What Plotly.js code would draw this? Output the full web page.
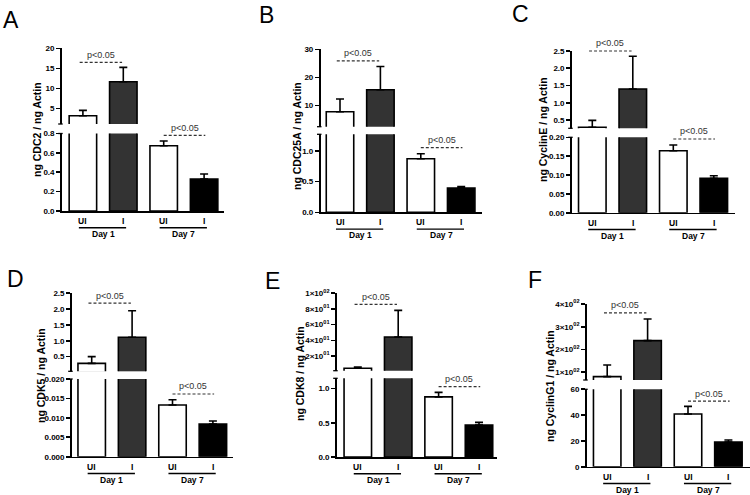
<!DOCTYPE html>
<html>
<head>
<meta charset="utf-8">
<script src="https://cdn.plot.ly/plotly-3.0.1.min.js"></script>
<style>html,body{margin:0;padding:0;background:#fff;}#chart{width:750px;height:495px;}</style>
</head>
<body>
<div id="chart"></div>
<script>
// ---------------- DATA ----------------
const groupLabels = ['UI', 'I', 'UI', 'I'];
const dayLabels = ['Day 1', 'Day 7'];
const panelLetters = ['A', 'B', 'C', 'D', 'E', 'F'];
const yTitles = ['ng CDC2 / ng Actin', 'ng CDC25A / ng Actin', 'ng CyclinE / ng Actin',
                 'ng CDK5 / ng Actin', 'ng CDK8 / ng Actin', 'ng CyclinG1 / ng Actin'];
const pText = 'p<0.05';

// means (UI day1, I day1, UI day7, I day7) and upper SEM
const cdc2Mean     = [3.15, 11.65, 0.674, 0.33];
const cdc2Err      = [1.35, 3.6, 0.048, 0.052];
const cdc25aMean   = [7.75, 15.6, 0.874, 0.396];
const cdc25aErr    = [4.55, 8.3, 0.082, 0.022];
const cyclinEMean  = [0.29, 1.40, 0.1645, 0.0912];
const cyclinEErr   = [0.20, 0.95, 0.015, 0.007];
const cdk5Mean     = [0.29, 1.11, 0.01331, 0.00842];
const cdk5Err      = [0.21, 0.83, 0.00136, 0.00077];
const cdk8Mean     = [4.3, 44.2, 0.88, 0.468];
const cdk8Err      = [1.7, 34.0, 0.066, 0.039];
const cyclinG1Mean = [80.8, 239, 40.9, 19.1];
const cyclinG1Err  = [51, 95, 5.9, 1.6];

// significance bracket levels: [day1 (upper segment), day7 (lower segment)]
const pLevelA = [16.5, 0.781];
const pLevelB = [25.9, 1.054];
const pLevelC = [2.5, 0.1955];
const pLevelD = [2.18, 0.01614];
const pLevelE = [85.9, 1.03];
const pLevelF = [361, 50.9];

// tick values / labels
const ticksUpA = [5, 10, 15, 20],           ticksUpTextA = ['5', '10', '15', '20'];
const ticksLowA = [0, 0.2, 0.4, 0.6, 0.8],  ticksLowTextA = ['0.0', '0.2', '0.4', '0.6', '0.8'];
const ticksUpB = [10, 20, 30],              ticksUpTextB = ['10', '20', '30'];
const ticksLowB = [0, 0.5, 1.0],            ticksLowTextB = ['0.0', '0.5', '1.0'];
const ticksUpC = [0.5, 1, 1.5, 2, 2.5],     ticksUpTextC = ['0.5', '1.0', '1.5', '2.0', '2.5'];
const ticksLowC = [0, 0.05, 0.1, 0.15, 0.2], ticksLowTextC = ['0.00', '0.05', '0.10', '0.15', '0.20'];
const ticksUpD = [0.5, 1, 1.5, 2, 2.5],     ticksUpTextD = ['0.5', '1.0', '1.5', '2.0', '2.5'];
const ticksLowD = [0, 0.005, 0.01, 0.015, 0.02], ticksLowTextD = ['0.000', '0.005', '0.010', '0.015', '0.020'];
const ticksUpE = [20, 40, 60, 80, 100],
      ticksUpTextE = ['2×10<sup>01</sup>', '4×10<sup>01</sup>', '6×10<sup>01</sup>', '8×10<sup>01</sup>', '1×10<sup>02</sup>'];
const ticksLowE = [0, 0.5, 1.0],            ticksLowTextE = ['0.0', '0.5', '1.0'];
const ticksUpF = [100, 200, 300, 400],
      ticksUpTextF = ['1×10<sup>02</sup>', '2×10<sup>02</sup>', '3×10<sup>02</sup>', '4×10<sup>02</sup>'];
const ticksLowF = [0, 20, 40, 60],          ticksLowTextF = ['0', '20', '40', '60'];

const barColors = ['#ffffff', '#333333', '#ffffff', '#000000'];

// ---------------- LAYOUT GEOMETRY (pixels) ----------------
const W = 750, H = 495;
const fx = p => p / W;
const fy = p => 1 - p / H;

const panels = [
  {mean: cdc2Mean, err: cdc2Err, p: pLevelA, tu: ticksUpA, tut: ticksUpTextA, tl: ticksLowA, tlt: ticksLowTextA,
   ax: 61.7, c0: 82.9, s: 40.4, xEnd: 224, low: [133.5, 211], lowMax: 0.8, up: [48.3, 124], upR: [1.1, 20],
   title: [37, 130], letter: [11, 20]},
  {mean: cdc25aMean, err: cdc25aErr, p: pLevelB, tu: ticksUpB, tut: ticksUpTextB, tl: ticksLowB, tlt: ticksLowTextB,
   ax: 320.5, c0: 340, s: 40.4, xEnd: 481.7, low: [134.3, 212.3], lowMax: 1.272, up: [49.3, 126.7], upR: [2.45, 30],
   title: [297, 136], letter: [266, 15]},
  {mean: cyclinEMean, err: cyclinEErr, p: pLevelC, tu: ticksUpC, tut: ticksUpTextC, tl: ticksLowC, tlt: ticksLowTextC,
   ax: 571.7, c0: 592.3, s: 40.5, xEnd: 735, low: [137.3, 212.7], lowMax: 0.2, up: [51, 128.3], upR: [0.26, 2.5],
   title: [543, 130], letter: [520, 14]},
  {mean: cdk5Mean, err: cdk5Err, p: pLevelD, tu: ticksUpD, tut: ticksUpTextD, tl: ticksLowD, tlt: ticksLowTextD,
   ax: 71.7, c0: 91.7, s: 40.4, xEnd: 233.3, low: [379, 456.7], lowMax: 0.02, up: [293, 371.3], upR: [0.04, 2.5],
   title: [41, 376], letter: [15, 279]},
  {mean: cdk8Mean, err: cdk8Err, p: pLevelE, tu: ticksUpE, tut: ticksUpTextE, tl: ticksLowE, tlt: ticksLowTextE,
   ax: 336.7, c0: 357.8, s: 40.4, xEnd: 497, low: [378.3, 457], lowMax: 1.152, up: [293.3, 370.7], upR: [1.25, 100],
   title: [300, 374], letter: [272, 281]},
  {mean: cyclinG1Mean, err: cyclinG1Err, p: pLevelF, tu: ticksUpF, tut: ticksUpTextF, tl: ticksLowF, tlt: ticksLowTextF,
   ax: 586.7, c0: 607.2, s: 40.4, xEnd: 750, low: [389.3, 466.7], lowMax: 60, up: [304, 380], upR: [66, 400],
   title: [550, 386], letter: [535, 280]}
];

const FONT = 'Arial, "Liberation Sans", Helvetica, sans-serif';
const LW = 1.6;
const traces = [];
const layout = {
  width: W, height: H, margin: {l: 0, r: 0, t: 0, b: 0},
  paper_bgcolor: '#ffffff', plot_bgcolor: 'rgba(0,0,0,0)',
  showlegend: false, barmode: 'overlay',
  annotations: [], shapes: [],
  font: {family: FONT, color: '#000'}
};

const xPos = [0, 1, 2, 3];

panels.forEach((P, i) => {
  const xn = i === 0 ? '' : String(i + 1);
  const ylN = i === 0 ? '' : String(2 * i + 1);
  const yuN = String(2 * i + 2);
  const xa = 'x' + xn, yl = 'y' + ylN, yu = 'y' + yuN;

  // lower segment: all four bars
  traces.push({
    type: 'bar', x: xPos, y: P.mean, width: 0.68, xaxis: xa, yaxis: yl,
    marker: {color: barColors, line: {color: '#000', width: LW}},
    error_y: {type: 'data', symmetric: false, array: [0, 0, P.err[2], P.err[3]], arrayminus: [0, 0, 0, 0],
              color: '#000', thickness: LW, width: 4},
    hoverinfo: 'none'
  });
  // upper segment: day 1 bars
  traces.push({
    type: 'bar', x: xPos.slice(0, 2), y: P.mean.slice(0, 2), width: 0.68, xaxis: xa, yaxis: yu,
    marker: {color: barColors.slice(0, 2), line: {color: '#000', width: LW}},
    error_y: {type: 'data', symmetric: false, array: P.err.slice(0, 2), arrayminus: [0, 0],
              color: '#000', thickness: LW, width: 4},
    hoverinfo: 'none'
  });

  const xr = [(P.ax - P.c0) / P.s, (P.xEnd - P.c0) / P.s];
  layout['xaxis' + xn] = {
    domain: [fx(P.ax), fx(P.xEnd)], range: xr, anchor: yl,
    showline: true, linecolor: '#000', linewidth: LW, ticks: '', showticklabels: false,
    showgrid: false, zeroline: false, fixedrange: true
  };
  const yCommon = {
    anchor: xa, showline: true, linecolor: '#000', linewidth: LW,
    ticks: 'outside', ticklen: 4, tickwidth: LW, tickcolor: '#000',
    tickfont: {family: FONT, size: 8, weight: 'bold', color: '#000'},
    showgrid: false, zeroline: false, fixedrange: true, tickmode: 'array'
  };
  layout['yaxis' + ylN] = Object.assign({}, yCommon, {
    domain: [fy(P.low[1]), fy(P.low[0])], range: [0, P.lowMax], tickvals: P.tl, ticktext: P.tlt
  });
  layout['yaxis' + yuN] = Object.assign({}, yCommon, {
    domain: [fy(P.up[1]), fy(P.up[0])], range: P.upR, tickvals: P.tu, ticktext: P.tut
  });

  // helpers: data -> paper
  const xToPaper = v => fx(P.c0 + v * P.s);
  const upToPx = v => P.up[0] + (P.upR[1] - v) / (P.upR[1] - P.upR[0]) * (P.up[1] - P.up[0]);
  const lowToPx = v => P.low[1] - v / P.lowMax * (P.low[1] - P.low[0]);

  // break caps on the y-axis line
  [P.up[1], P.low[0]].forEach(py => {
    layout.shapes.push({type: 'line', xref: 'paper', yref: 'paper',
      x0: fx(P.ax - 3.5), x1: fx(P.ax + 1), y0: fy(py), y1: fy(py), line: {color: '#000', width: 1.3}});
  });

  // significance brackets
  const brackets = [
    {x0: -0.08, x1: 0.97, py: upToPx(P.p[0])},
    {x0: 2.0, x1: 3.03, py: lowToPx(P.p[1])}
  ];
  brackets.forEach(b => {
    layout.shapes.push({type: 'line', xref: 'paper', yref: 'paper',
      x0: xToPaper(b.x0), x1: xToPaper(b.x1), y0: fy(b.py), y1: fy(b.py),
      line: {color: '#333', width: 1.2, dash: '3px,2px'}});
    layout.annotations.push({xref: 'paper', yref: 'paper', x: xToPaper((b.x0 + b.x1) / 2), y: fy(b.py - 0.5),
      text: pText, showarrow: false, xanchor: 'center', yanchor: 'bottom',
      font: {family: FONT, size: 9, color: '#333'}});
  });

  // group labels under the x axis
  const y0 = P.low[1];
  groupLabels.forEach((g, k) => {
    layout.annotations.push({xref: 'paper', yref: 'paper', x: xToPaper(xPos[k]), y: fy(y0 + 10),
      text: g, showarrow: false, xanchor: 'center', yanchor: 'middle',
      font: {family: FONT, size: 8.5, weight: 'bold', color: '#000'}});
  });
  dayLabels.forEach((d, k) => {
    const a = 2 * k - 0.1, bb = 2 * k + 1.07;
    layout.shapes.push({type: 'line', xref: 'paper', yref: 'paper',
      x0: xToPaper(a), x1: xToPaper(bb), y0: fy(y0 + 16.8), y1: fy(y0 + 16.8), line: {color: '#000', width: 1.4}});
    layout.annotations.push({xref: 'paper', yref: 'paper', x: xToPaper(2 * k + 0.5), y: fy(y0 + 23),
      text: d, showarrow: false, xanchor: 'center', yanchor: 'middle',
      font: {family: FONT, size: 8.5, weight: 'bold', color: '#000'}});
  });

  // y-axis title
  layout.annotations.push({xref: 'paper', yref: 'paper', x: fx(P.title[0]), y: fy(P.title[1]),
    text: yTitles[i], showarrow: false, textangle: -90, xanchor: 'center', yanchor: 'middle',
    font: {family: FONT, size: 10.5, weight: 'bold', color: '#000'}});
  // panel letter
  layout.annotations.push({xref: 'paper', yref: 'paper', x: fx(P.letter[0]), y: fy(P.letter[1]),
    text: panelLetters[i], showarrow: false, xanchor: 'center', yanchor: 'middle',
    font: {family: FONT, size: 23, color: '#000'}});
});

Plotly.newPlot('chart', traces, layout, {displayModeBar: false, staticPlot: true});
</script>
</body>
</html>
